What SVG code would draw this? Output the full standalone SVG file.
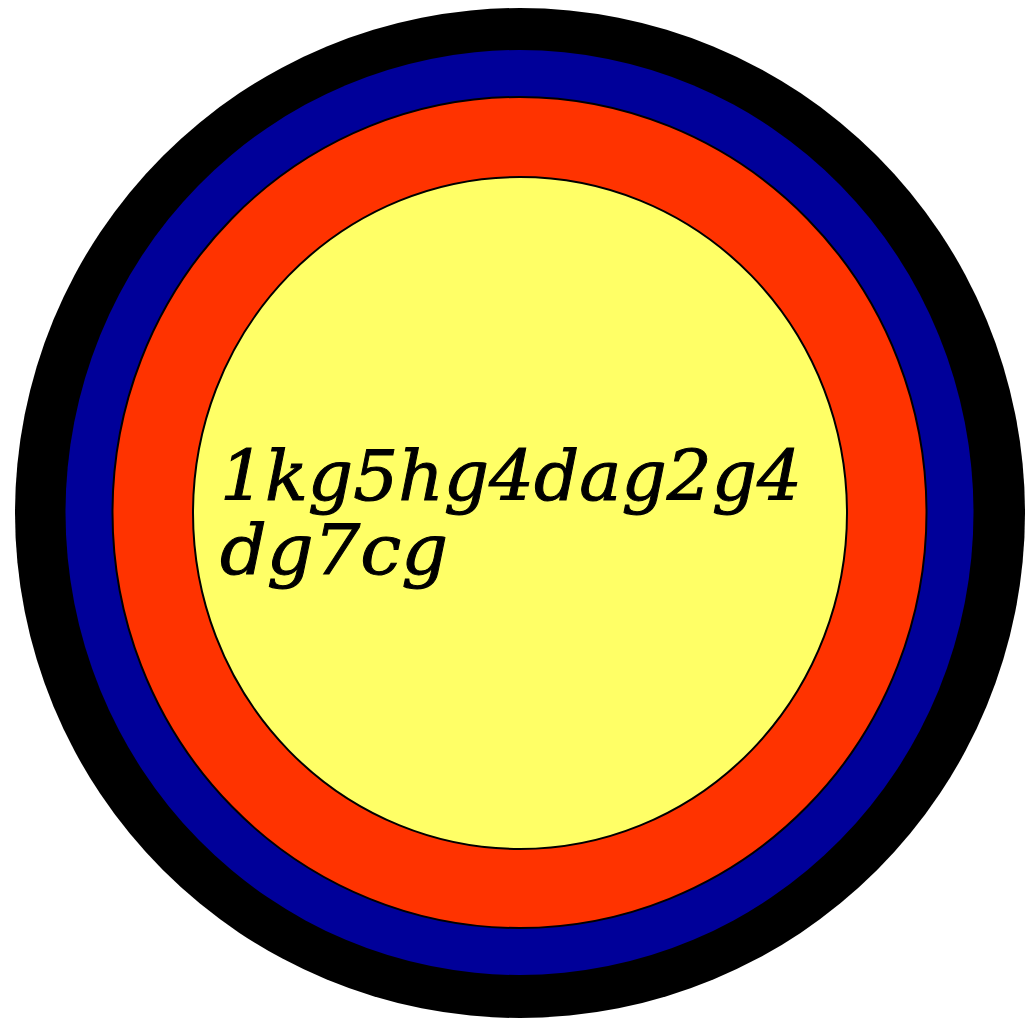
<svg xmlns="http://www.w3.org/2000/svg" width="1025" height="1020" viewBox="0 0 1025 1020">
<style>
.lbl{font-family:"DejaVu Serif","Liberation Serif",serif;font-style:italic;font-size:70px;fill:#000;stroke:#000;stroke-width:1}
.ring{stroke:#000;stroke-width:2}
</style>
<rect width="1025" height="1020" fill="#fff"/>
<g id="outer"><ellipse cx="520" cy="513" rx="505" ry="505" fill="#000"/></g>
<g id="blue"><ellipse cx="519.5" cy="512.5" rx="454" ry="462.5" fill="#000099"/></g>
<g id="red"><ellipse class="ring" cx="519.5" cy="512.5" rx="407" ry="415.5" fill="#ff3300"/></g>
<g id="yellow"><ellipse class="ring" cx="520" cy="513" rx="327" ry="336" fill="#ffff66"/>
<text class="lbl" x="220" y="500" textLength="582" lengthAdjust="spacingAndGlyphs">1kg5hg4dag2g4</text>
<text class="lbl" x="220" y="574" textLength="228" lengthAdjust="spacingAndGlyphs">dg7cg</text>
</g>
<g id="connectors"/>
</svg>
